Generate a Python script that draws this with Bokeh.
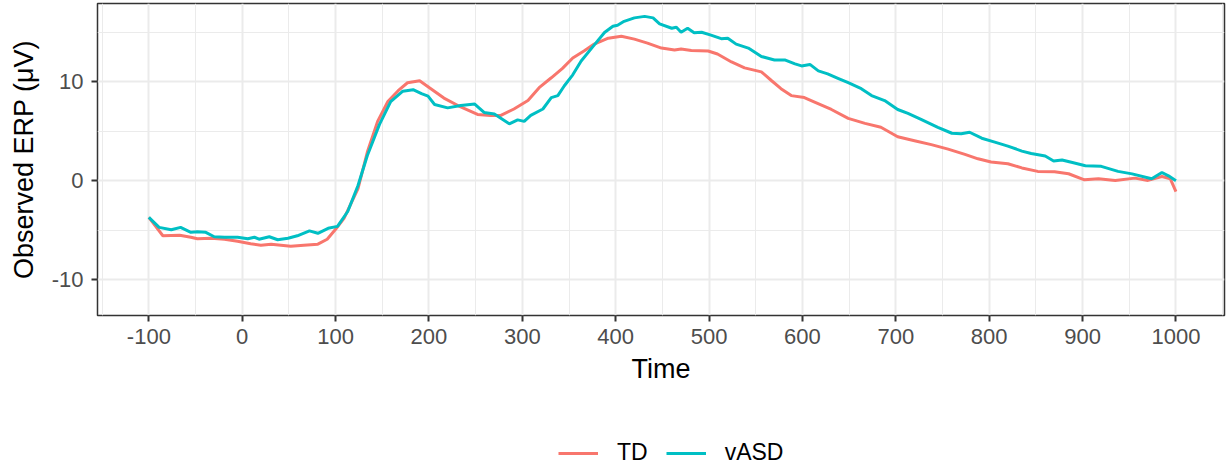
from bokeh.plotting import figure
from bokeh.models import Range1d, FixedTicker, Legend, LegendItem
from bokeh.layouts import column
from bokeh.embed import file_html
from bokeh.resources import INLINE

# ---- data ----
time_td = [-100,-85,-67,-55,-48,-33,-19,-5,9,20,31,52,66,81,91,100,109,124,134,145,
           156,167,177,190,202,216,231,252,266,277,291,306,318,331,343,354,366,377,392,406,
           420,434,449,463,470,481,499,509,524,538,556,567,577,588,602,613,631,649,667,684,
           702,720,738,756,774,788,802,820,835,852,870,885,902,917,935,956,970,985,994,1000]
erp_td = [-3.7,-5.55,-5.5,-5.7,-5.85,-5.8,-5.9,-6.1,-6.35,-6.5,-6.4,-6.6,-6.5,-6.4,-5.9,
          -4.9,-3.8,-0.8,2.9,6.0,8.0,9.1,9.9,10.1,9.3,8.35,7.6,6.7,6.6,6.6,
          7.25,8.1,9.4,10.4,11.35,12.4,13.1,13.8,14.4,14.6,14.3,13.9,13.4,13.2,13.3,
          13.15,13.1,12.8,12.0,11.4,11.0,10.1,9.3,8.6,8.4,7.95,7.2,6.3,5.8,5.4,
          4.45,4.05,3.65,3.2,2.67,2.22,1.9,1.72,1.3,0.95,0.92,0.71,0.1,0.2,0.04,
          0.27,0.04,0.44,0.2,-1.1]

time_vasd = [-100,-89,-76,-66,-55,-48,-39,-30,-19,-5,6,13,18,29,38,49,59,72,81,92,
             102,113,124,134,147,159,172,183,192,199,206,220,234,249,259,270,286,295,302,309,
             322,331,338,345,354,363,376,388,397,402,409,420,431,440,447,460,465,470,477,484,
             492,502,513,520,529,542,556,570,581,592,599,608,617,627,638,649,663,674,688,702,
             713,727,736,745,760,770,779,792,806,820,835,845,860,869,878,888,903,920,938,953,
             974,985,992,1000]
erp_vasd = [-3.7,-4.7,-4.95,-4.7,-5.2,-5.15,-5.2,-5.65,-5.7,-5.7,-5.85,-5.7,-5.9,-5.65,-5.95,
            -5.8,-5.55,-5.05,-5.3,-4.8,-4.6,-3.1,-0.47,2.55,5.7,8.0,9.05,9.2,8.8,8.55,
            7.7,7.36,7.6,7.75,6.9,6.75,5.75,6.15,6.0,6.6,7.25,8.4,8.6,9.6,10.7,
            12.1,13.6,14.97,15.6,15.7,16.1,16.45,16.6,16.45,15.85,15.4,15.5,15.0,15.4,14.95,
            15.0,14.7,14.35,14.4,13.8,13.4,12.55,12.2,12.2,11.8,11.6,11.75,11.1,10.8,10.35,
            9.9,9.3,8.6,8.1,7.2,6.8,6.2,5.8,5.4,4.8,4.75,4.9,4.3,3.9,3.5,
            3.0,2.76,2.5,2.0,2.1,1.87,1.52,1.46,0.95,0.7,0.2,0.84,0.5,0.0]

x_ticks = [-100, 0, 100, 200, 300, 400, 500, 600, 700, 800, 900, 1000]
x_minor = [-150, -50, 50, 150, 250, 350, 450, 550, 650, 750, 850, 950, 1050]
y_ticks = [-10, 0, 10]
y_minor = [-5, 5, 15]
series_names = ["TD", "vASD"]
series_colors = ["#F8766D", "#00BFC4"]

FONT = "Liberation Sans"
W = 1226
H_MAIN = 438
H_LEG = 30
LINE_W = 3

p = figure(width=W, height=H_MAIN, output_backend="svg", toolbar_location=None,
           x_range=Range1d(-155, 1052), y_range=Range1d(-13.6, 17.9),
           min_border_left=97, min_border_right=2, min_border_top=3,
           min_border_bottom=H_MAIN - 315,
           x_axis_label="Time", y_axis_label="Observed ERP (\u03bcV)")

p.background_fill_color = "white"
p.border_fill_color = "white"
p.outline_line_color = "#333333"
p.outline_line_width = 1.5

p.xaxis.ticker = FixedTicker(ticks=x_ticks, minor_ticks=x_minor)
p.yaxis.ticker = FixedTicker(ticks=y_ticks, minor_ticks=y_minor)
p.xaxis.major_label_overrides = {t: str(t) for t in x_ticks}
p.yaxis.major_label_overrides = {t: str(t) for t in y_ticks}

for g in (p.xgrid, p.ygrid):
    g.grid_line_color = "#EBEBEB"
    g.grid_line_width = 2
    g.minor_grid_line_color = "#EBEBEB"
    g.minor_grid_line_width = 1

for ax in (p.xaxis, p.yaxis):
    ax.axis_line_color = None
    ax.major_tick_line_color = "#333333"
    ax.major_tick_line_width = 2
    ax.major_tick_out = 6
    ax.major_tick_in = 0
    ax.minor_tick_line_color = None
    ax.major_label_text_font = FONT
    ax.major_label_text_font_size = "22px"
    ax.major_label_text_color = "#4D4D4D"
    ax.axis_label_text_font = FONT
    ax.axis_label_text_font_size = "27px"
    ax.axis_label_text_font_style = "normal"
    ax.axis_label_text_color = "black"

p.xaxis.major_label_standoff = 7
p.xaxis.axis_label_standoff = 7
p.yaxis.major_label_standoff = 8
p.yaxis.axis_label_standoff = 10

p.line(time_td, erp_td, line_color=series_colors[0], line_width=LINE_W)
p.line(time_vasd, erp_vasd, line_color=series_colors[1], line_width=LINE_W)

# ---- legend strip below the chart (ggplot-style bottom legend) ----
# its ranges lie outside the data, so the series only feed the legend keys
leg = figure(width=W, height=H_LEG, output_backend="svg", toolbar_location=None,
             x_range=Range1d(5000, 6000), y_range=Range1d(500, 600),
             x_axis_type=None, y_axis_type=None,
             min_border_left=0, min_border_right=0, min_border_top=0, min_border_bottom=0)
leg.outline_line_color = None
leg.xgrid.visible = False
leg.ygrid.visible = False
leg.border_fill_color = "white"
leg.background_fill_color = "white"

legend_items = []
for name, col, tx, ty in zip(series_names, series_colors,
                             [time_td, time_vasd], [erp_td, erp_vasd]):
    r = leg.line(tx, ty, line_color=col, line_width=LINE_W)
    legend_items.append(LegendItem(label=name, renderers=[r]))

legend = Legend(items=legend_items, location=(461, 2), orientation="horizontal",
                border_line_color=None, background_fill_alpha=0,
                padding=0, margin=0, spacing=18,
                glyph_width=40, glyph_height=26, label_standoff=19,
                label_text_font=FONT, label_text_font_size="23px",
                label_text_color="black")
leg.add_layout(legend, "center")

layout = column(p, leg, spacing=0)
open("out.html", "w").write(file_html(layout, INLINE))
